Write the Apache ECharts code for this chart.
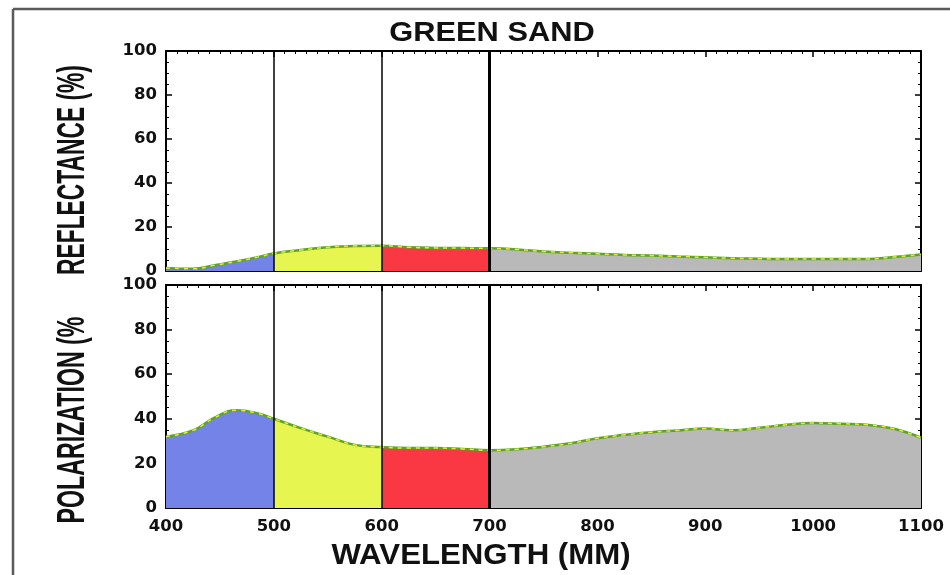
<!DOCTYPE html>
<html>
<head>
<meta charset="utf-8">
<script src="https://cdn.jsdelivr.net/npm/echarts@6/dist/echarts.min.js"></script>
<style>html,body{margin:0;padding:0;background:#fff}#c{width:950px;height:575px}</style>
</head>
<body>
<div id="c"></div>
<script>
// ---- data ----
const wavelength = [400,425,445,465,485,500,525,550,575,600,625,650,675,700,725,750,775,800,825,850,875,900,925,950,975,1000,1025,1050,1075,1100];
const reflectance = [1.4,1.0,2.6,4.3,6.3,8.0,9.5,10.8,11.4,11.5,10.8,10.5,10.4,10.3,9.8,8.9,8.3,7.8,7.3,7.0,6.6,6.2,5.8,5.6,5.4,5.4,5.4,5.4,6.4,7.5];
const polarization = [32,34.8,40.5,43.8,42.4,40,35.8,32,28.3,27.3,26.9,26.9,26.5,25.9,26.3,27.5,29,31.3,32.8,34,34.8,35.6,34.9,36,37.3,38.1,37.8,37.3,35.5,31.5];
const bandEdges = [400,500,600,700,1100];
const xTickValues = [400,500,600,700,800,900,1000,1100];
const yTickValues = [0,20,40,60,80,100];
const titleText = 'GREEN SAND';
const xName = 'WAVELENGTH (MM)';
const yNameTop = 'REFLECTANCE (%)';
const yNameBottom = 'POLARIZATION (%';

// ---- styles ----
const bandColors = ['#7383e8','#e6f550','#fa3844','#b9b9b9'];
const lineGreen = '#5ea327';
const lineYellow = '#e2ee3c';

const pairs = vals => wavelength.map((w,i)=>[w, vals[i]]);

const grids = [
  {left:166, right:29, top:51, height:220},
  {left:166, right:29, top:285, height:223}
];

const labelStyle = {color:'#111', fontSize:16.5, fontWeight:'bold', fontFamily:'DejaVu Sans'};

function xAxes(gi, showLabels){
  const base = {
    type:'value', gridIndex:gi, min:xTickValues[0], max:xTickValues[xTickValues.length-1], interval:100,
    axisLine:{show:true, onZero:false, lineStyle:{color:'#000', width:2}},
    axisTick:{show:true, inside:true, length:6, lineStyle:{color:'#000', width:1.5}},
    minorTick:{show:true, splitNumber:10, length:3, lineStyle:{color:'#000', width:1}},
    splitLine:{show:false}
  };
  return [
    Object.assign({}, base, {position:'bottom', axisLabel:Object.assign({show:showLabels, margin:10, formatter:v=>String(v)}, labelStyle)}),
    Object.assign({}, base, {position:'top', axisLabel:{show:false}})
  ];
}
function yAxes(gi){
  const base = {
    type:'value', gridIndex:gi, min:yTickValues[0], max:yTickValues[yTickValues.length-1], interval:20,
    axisLine:{show:true, onZero:false, lineStyle:{color:'#000', width:2}},
    axisTick:{show:true, inside:true, length:6, lineStyle:{color:'#000', width:1.5}},
    minorTick:{show:true, splitNumber:4, length:3, lineStyle:{color:'#000', width:1}},
    splitLine:{show:false}
  };
  return [
    Object.assign({}, base, {position:'left', axisLabel:Object.assign({show:true, margin:9, formatter:v=>String(v)}, labelStyle)}),
    Object.assign({}, base, {position:'right', axisLabel:{show:false}})
  ];
}

const vLines = {
  silent:true, symbol:'none', animation:false, label:{show:false},
  data:[
    {xAxis:bandEdges[1], lineStyle:{color:'#000', width:1.5, type:'solid'}},
    {xAxis:bandEdges[2], lineStyle:{color:'#000', width:1.5, type:'solid'}},
    {xAxis:bandEdges[3], lineStyle:{color:'#000', width:3, type:'solid'}}
  ]
};

function panelSeries(gi, vals){
  const xi = gi*2, yi = gi*2;
  return [
    {type:'line', xAxisIndex:xi, yAxisIndex:yi, data:pairs(vals), smooth:0.45, showSymbol:false,
     lineStyle:{width:0}, areaStyle:{opacity:1}, z:2},
    {type:'line', xAxisIndex:xi, yAxisIndex:yi, data:pairs(vals), smooth:0.45, showSymbol:false,
     lineStyle:{width:2.5, color:lineGreen}, itemStyle:{color:lineGreen}, z:3},
    {type:'line', xAxisIndex:xi, yAxisIndex:yi, data:pairs(vals), smooth:0.45, showSymbol:false,
     lineStyle:{width:1.5, color:lineYellow, type:[4,5]}, itemStyle:{color:lineYellow}, z:4,
     markLine:vLines}
  ];
}

const chart = echarts.init(document.getElementById('c'), null, {renderer:'canvas'});
chart.setOption({
  animation:false,
  backgroundColor:'#fff',
  grid:grids,
  xAxis:[...xAxes(0,false), ...xAxes(1,true)],
  yAxis:[...yAxes(0), ...yAxes(1)],
  visualMap:[{
    show:false, type:'piecewise', dimension:0, seriesIndex:[0,3],
    pieces:[
      {gte:bandEdges[0], lt:bandEdges[1], color:bandColors[0]},
      {gte:bandEdges[1], lt:bandEdges[2], color:bandColors[1]},
      {gte:bandEdges[2], lt:bandEdges[3], color:bandColors[2]},
      {gte:bandEdges[3], lte:bandEdges[4], color:bandColors[3]}
    ]
  }],
  series:[...panelSeries(0, reflectance), ...panelSeries(1, polarization)],
  graphic:[
    {type:'line', shape:{x1:13,y1:9,x2:950,y2:9}, style:{stroke:'#5a5a5a', lineWidth:2.5}, silent:true},
    {type:'line', shape:{x1:13,y1:9,x2:13,y2:575}, style:{stroke:'#5a5a5a', lineWidth:2.5}, silent:true},
    {type:'text', x:492, y:33, scaleX:1.1, style:{text:titleText, font:'bold 28px "Liberation Sans"', fill:'#111', align:'center', verticalAlign:'middle'}},
    {type:'text', x:481, y:556, scaleX:1.04, style:{text:xName, font:'bold 30px "Liberation Sans"', fill:'#111', align:'center', verticalAlign:'middle'}},
    {type:'text', x:74, y:170, rotation:Math.PI/2, scaleX:0.6, style:{text:yNameTop, font:'bold 38px "Liberation Sans"', fill:'#111', align:'center', verticalAlign:'middle'}},
    {type:'text', x:74, y:420, rotation:Math.PI/2, scaleX:0.61, style:{text:yNameBottom, font:'bold 38px "Liberation Sans"', fill:'#111', align:'center', verticalAlign:'middle'}}
  ]
});
</script>
</body>
</html>
